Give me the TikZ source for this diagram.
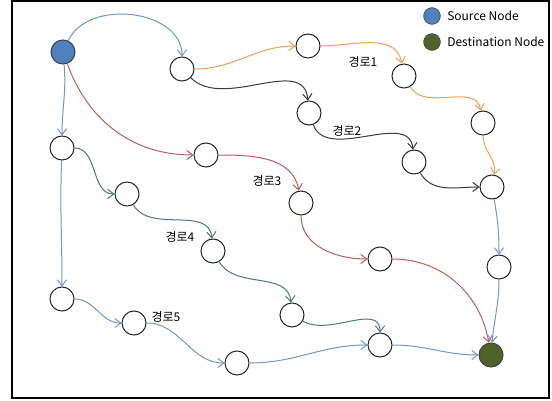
\documentclass[tikz,border=0pt]{standalone}
\usepackage{fontspec}
\setmainfont{Noto Sans CJK KR}
\usetikzlibrary{arrows.meta}
\definecolor{pblue}{RGB}{112,150,204}
\definecolor{porange}{RGB}{242,160,82}
\definecolor{pdark}{RGB}{58,58,58}
\definecolor{pred}{RGB}{192,92,92}
\definecolor{pteal}{RGB}{78,118,128}
\definecolor{srcfill}{RGB}{79,129,189}
\definecolor{dstfill}{RGB}{79,98,40}

\begin{document}
\begin{tikzpicture}[x={(0.75pt,0pt)},y={(0pt,0.75pt)},
    wnode/.style={circle,draw=black!85,line width=0.75pt,fill=white,minimum size=18pt,inner sep=0pt},
    lnode/.style={circle,draw=black!70,line width=0.6pt,minimum size=12.5pt,inner sep=0pt},
    path/.style={line width=0.75pt,-{Straight Barb[length=4.5pt,width=7pt]}},
    lbl/.style={font=\fontsize{9}{11}\selectfont}]
    \useasboundingbox (0,0) rectangle (552,400);
    \draw[line width=0.8pt] (12,2) rectangle (549,399);
    % nodes
    \node[wnode,fill=srcfill,draw=black!75] (src) at (63,348) {};
    \node[wnode,fill=dstfill,draw=black!75] (dst) at (491,45) {};
    \foreach \n/\x/\y in {a/182/331, b/206/245, c/62/252, d/127/206,
                          p1/308/354, p2/404/324, p3/483/277, e/492/213,
                          q1/309/287, q2/414/238, r1/301/197, r2/380/141,
                          f/499/133, t1/213/149, t2/292/85, u/380/55,
                          g/62/101, h/134/77, i/237/37}{
        \node[wnode] (\n) at (\x,\y) {};
    }
    % legend
    \node[lnode,fill=srcfill] (ls) at (432,384) {};
    \node[lnode,fill=dstfill] (ld) at (432,358) {};
    \node[lbl,anchor=west,inner sep=0pt] (lstext) at (447,384) {Source Node};
    \node[lbl,anchor=west,inner sep=0pt] (ldtext) at (447,358) {Destination Node};
    % path labels
    \node[lbl] (k1) at (363,338) {경로1};
    \node[lbl] (k2) at (347,269) {경로2};
    \node[lbl] (k3) at (267,219) {경로3};
    \node[lbl] (k4) at (180,163) {경로4};
    \node[lbl] (k5) at (166,83) {경로5};
    % edges
    \draw[path,pblue] (src) to[out=65,in=90,looseness=1.05] (a);
    \draw[path,pblue] (src) to[out=-85,in=90] (c);
    \draw[path,pred] (src) to[out=-70,in=180] (b);
    \draw[path,porange] (a) to[out=0,in=180] (p1);
    \draw[path,porange] (p1) to[out=0,in=100] (p2);
    \draw[path,porange] (p2) to[out=-60,in=100] (p3);
    \draw[path,porange] (p3) to[out=-90,in=80] (e);
    \draw[path,pdark] (a) to[out=-45,in=95] (q1);
    \draw[path,pdark] (q1) to[out=-70,in=95] (q2);
    \draw[path,pdark] (q2) to[out=-60,in=180] (e);
    \draw[path,pred] (b) to[out=0,in=100] (r1);
    \draw[path,pred] (r1) to[out=-90,in=180] (r2);
    \draw[path,pred] (r2) to[out=0,in=100] (dst);
    \draw[path,pblue] (e) to[out=-80,in=90] (f);
    \draw[path,pblue] (f) to[out=-90,in=85] (dst);
    \draw[path,pteal] (c) to[out=0,in=180] (d);
    \draw[path,pteal] (d) to[out=-60,in=95] (t1);
    \draw[path,pteal] (t1) to[out=-60,in=95] (t2);
    \draw[path,pteal] (t2) to[out=-30,in=90] (u);
    \draw[path,pblue] (c) to[out=-92,in=90] (g);
    \draw[path,pblue] (g) to[out=0,in=180] (h);
    \draw[path,pblue] (h) to[out=0,in=180] (i);
    \draw[path,pblue] (i) to[out=0,in=180] (u);
    \draw[path,pblue] (u) to[out=0,in=180] (dst);
\end{tikzpicture}
\end{document}
